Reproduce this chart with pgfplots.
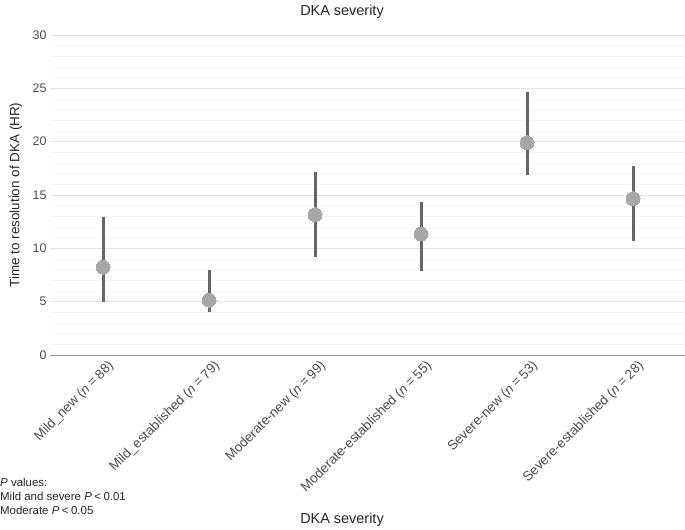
\documentclass[border=0pt]{standalone}
\usepackage{pgfplots}
\pgfplotsset{compat=1.18}
\usepackage{pgfplotstable}
\usepackage{fontspec}
\setmainfont{Liberation Sans}
\definecolor{pt}{HTML}{A7A7AA}
\definecolor{bar}{HTML}{666666}
\definecolor{tk}{HTML}{4D4D4D}
\newcommand{\eqs}{\kern3pt=\kern3pt}
\newcommand{\lts}{\kern2.5pt<\kern2.5pt}
\pgfplotstableread{
x y lo hi
1 8.25 4.95 12.95
2 5.15 4.05 7.95
3 13.15 9.15 17.15
4 11.35 7.9 14.3
5 19.9 16.9 24.65
6 14.65 10.7 17.75
}\dka
\begin{document}
\begin{tikzpicture}
\useasboundingbox (-50bp,-175bp) rectangle (635bp,355bp);
\begin{axis}[
  at={(0,0)}, anchor=south west,
  scale only axis, width=636bp, height=320bp,
  xmin=0.5, xmax=6.5, ymin=0, ymax=30,
  xtick={1,2,3,4,5,6},
  xticklabels={{Mild\_new (\textit{n}\eqs 88)},{Mild\_established (\textit{n}\eqs 79)},{Moderate-new (\textit{n}\eqs 99)},{Moderate-established (\textit{n}\eqs 55)},{Severe-new (\textit{n}\eqs 53)},{Severe-established (\textit{n}\eqs 28)}},
  xticklabel style={rotate=45, anchor=north east, font=\fontsize{13.5}{15}\selectfont, text=tk, inner sep=1bp, yshift=-5bp, xshift=1bp},
  ytick={0,5,10,15,20,25,30},
  minor y tick num=4,
  yticklabel style={font=\fontsize{12.5}{14}\selectfont, text=tk},
  /pgf/number format/assume math mode=true,
  major tick length=0pt, minor tick length=0pt,
  tick style={draw=none},
  ymajorgrids=true, yminorgrids=true, xmajorgrids=false,
  major grid style={color=black!11, line width=0.9bp},
  minor grid style={color=black!3.5, line width=0.6bp},
  axis x line*=bottom, axis y line*=left,
  x axis line style={draw=black!40, line width=0.9bp, -},
  y axis line style={draw=none},
  ylabel={Time to resolution of DKA (HR)},
  every axis y label/.style={at={(-34bp,160bp)}, rotate=90, anchor=center, font=\fontsize{13.5}{15}\selectfont, text=black!85},
  clip=false,
]
\addplot[only marks, mark=none, error bars/.cd, y dir=both, y explicit,
  error mark=none, error bar style={line width=3bp, color=bar}]
  table[x=x, y=y, y error plus expr=\thisrow{hi}-\thisrow{y}, y error minus expr=\thisrow{y}-\thisrow{lo}] {\dka};
\addplot[only marks, mark=*, mark size=7bp, mark options={fill=pt, draw=pt, line width=0pt}]
  table[x=x, y=y] {\dka};
\end{axis}
\node[font=\fontsize{14.5}{16}\selectfont, text=black!85] at (292bp,343bp) {DKA severity};
\node[font=\fontsize{14.5}{16}\selectfont, text=black!85] at (292bp,-165bp) {DKA severity};
\node[font=\fontsize{11.5}{13.8}\selectfont, text=black!85, anchor=north west, align=left, inner sep=0pt] at (-50bp,-123bp) {\textit{P} values:\\Mild and severe \textit{P}\lts 0.01\\Moderate \textit{P}\lts 0.05};
\end{tikzpicture}
\end{document}
